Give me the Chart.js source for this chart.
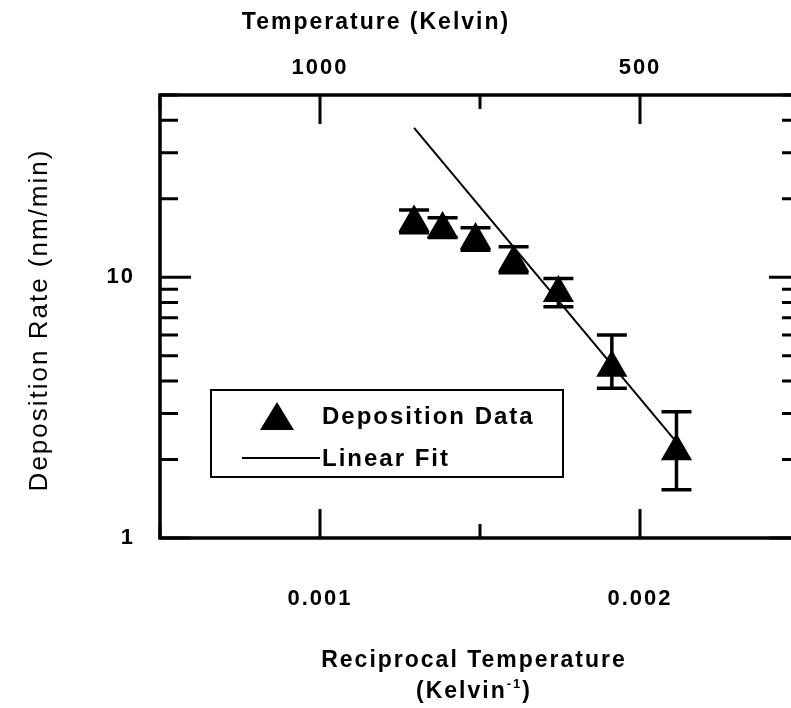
<!DOCTYPE html>
<html lang="en">
<head>
  <meta charset="UTF-8" />
  <title>Deposition Rate vs Reciprocal Temperature</title>
  <script src="https://cdn.jsdelivr.net/npm/chart.js"></script>
  <style>
    html, body { margin: 0; padding: 0; background: #fff; overflow: hidden; }
    #chart { display: block; }
  </style>
</head>
<body>
  <canvas id="chart" width="820" height="708"></canvas>

  <script>
    // data (x = 1/T, T in Kelvin)
    const recipTemp = [0.002114, 0.001912, 0.001745, 0.001605, 0.001486, 0.001383, 0.001294];
    const depRate = [2.15, 4.5, 8.7, 11.4, 13.9, 15.3, 16.2];
    const errLow = [1.53, 3.75, 7.7, 10.4, 12.7, 14.2, 14.8];
    const errHigh = [3.05, 6.0, 9.9, 13.1, 15.5, 16.9, 18.1];

    const fitX = [0.001294, 0.002114];
    const fitY = [37.4, 2.33];

    const xTickValues = [0.0005, 0.001, 0.0015, 0.002, 0.0025];
    const xTickLabels = ['', '0.001', '', '0.002', ''];
    const topTickValues = [0.0005, 0.001, 0.0015, 0.002, 0.0025];
    const topTickLabels = ['', '1000', '', '500', ''];
    const yTickValues = [1, 2, 3, 4, 5, 6, 7, 8, 9, 10, 20, 30, 40, 50];
    const yTickLabels = ['1', '', '', '', '', '', '', '', '', '10', '', '', '', ''];

    const FONT = 'Liberation Sans, Arial, sans-serif';
    const tickFont = { family: FONT, size: 22, weight: 'bold' };

    // frame, inward ticks, error bars, legend and axis titles
    const decor = {
      id: 'decor',
      beforeDraw(chart) {
        chart.ctx.letterSpacing = '2px';
      },
      afterDatasetsDraw(chart) {
        const ctx = chart.ctx;
        const { left, right, top, bottom } = chart.chartArea;
        const x = chart.scales.x, y = chart.scales.y, xt = chart.scales.xTop;
        ctx.save();
        ctx.strokeStyle = '#000';
        ctx.fillStyle = '#000';

        // error bars
        ctx.lineWidth = 3.5;
        recipTemp.forEach((t, i) => {
          const px = x.getPixelForValue(t);
          const y1 = y.getPixelForValue(errLow[i]);
          const y2 = y.getPixelForValue(errHigh[i]);
          ctx.beginPath();
          ctx.moveTo(px, y1); ctx.lineTo(px, y2);
          ctx.moveTo(px - 15, y1); ctx.lineTo(px + 15, y1);
          ctx.moveTo(px - 15, y2); ctx.lineTo(px + 15, y2);
          ctx.stroke();
        });

        // frame
        ctx.lineWidth = 3.5;
        ctx.strokeRect(left, top, right - left, bottom - top);

        // ticks
        ctx.lineWidth = 3;
        ctx.beginPath();
        xTickValues.forEach((v, i) => {
          const px = x.getPixelForValue(v);
          const len = xTickLabels[i] ? 29 : 14;
          ctx.moveTo(px, bottom); ctx.lineTo(px, bottom - len);
        });
        topTickValues.forEach((v, i) => {
          const px = xt.getPixelForValue(v);
          const len = topTickLabels[i] ? 29 : 14;
          ctx.moveTo(px, top); ctx.lineTo(px, top + len);
        });
        yTickValues.forEach((v, i) => {
          const py = y.getPixelForValue(v);
          const len = yTickLabels[i] ? 31 : 18;
          ctx.moveTo(left, py); ctx.lineTo(left + len, py);
          ctx.moveTo(right, py); ctx.lineTo(right - len, py);
        });
        ctx.stroke();

        // legend
        const ds = chart.data.datasets;
        ctx.lineWidth = 2;
        ctx.strokeRect(211, 390, 352, 87);
        ctx.beginPath();
        ctx.moveTo(277, 402); ctx.lineTo(294, 430); ctx.lineTo(260, 430);
        ctx.closePath();
        ctx.fill();
        ctx.beginPath();
        ctx.moveTo(242, 458); ctx.lineTo(320, 458);
        ctx.stroke();
        ctx.font = 'bold 24px ' + FONT;
        ctx.textAlign = 'left';
        ctx.textBaseline = 'middle';
        ctx.fillText(ds[0].label, 322, 417);
        ctx.fillText(ds[1].label, 322, 459);

        // axis titles
        ctx.font = 'bold 23px ' + FONT;
        ctx.textAlign = 'center';
        ctx.fillText('Temperature (Kelvin)', 376, 23);
        ctx.fillText('Reciprocal Temperature', 474, 661);
        const kl = '(Kelvin';
        const w1 = ctx.measureText(kl).width;
        ctx.font = 'bold 13px ' + FONT;
        const w2 = ctx.measureText('-1').width;
        ctx.font = 'bold 23px ' + FONT;
        const w3 = ctx.measureText(')').width;
        const sx = 474 - (w1 + w2 + w3) / 2;
        ctx.textAlign = 'left';
        ctx.fillText(kl, sx, 692);
        ctx.font = 'bold 13px ' + FONT;
        ctx.fillText('-1', sx + w1, 684);
        ctx.font = 'bold 23px ' + FONT;
        ctx.fillText(')', sx + w1 + w2, 692);

        ctx.save();
        ctx.translate(40, 320);
        ctx.rotate(-Math.PI / 2);
        ctx.textAlign = 'center';
        ctx.font = '26px ' + FONT;
        ctx.fillText('Deposition Rate (nm/min)', 0, 0);
        ctx.restore();

        ctx.restore();
      }
    };

    // drop the side padding Chart.js reserves for edge tick labels
    function noSidePad(s) {
      s.paddingLeft = 0;
      s.paddingRight = 0;
    }

    const ctx = document.getElementById('chart').getContext('2d');
    new Chart(ctx, {
      type: 'scatter',
      data: {
        datasets: [
          {
            label: 'Deposition Data',
            data: recipTemp.map((t, i) => ({ x: t, y: depRate[i] })),
            pointStyle: 'triangle',
            pointRadius: 18,
            backgroundColor: '#000',
            borderColor: '#000',
            borderWidth: 0,
            xAxisID: 'x',
            yAxisID: 'y'
          },
          {
            label: 'Linear Fit',
            data: fitX.map((t, i) => ({ x: t, y: fitY[i] })),
            showLine: true,
            pointRadius: 0,
            borderColor: '#000',
            borderWidth: 2,
            xAxisID: 'x',
            yAxisID: 'y'
          }
        ]
      },
      options: {
        responsive: false,
        animation: false,
        layout: { padding: { left: 0, right: 20, top: 0, bottom: 0 } },
        plugins: { legend: { display: false }, tooltip: { enabled: false } },
        scales: {
          x: {
            type: 'linear', position: 'bottom', min: 0.0005, max: 0.0025,
            afterBuildTicks: s => { s.ticks = xTickValues.map(v => ({ value: v })); },
            afterFit: s => { s.height = 170; noSidePad(s); },
            grid: { display: false, drawTicks: false }, border: { display: false },
            ticks: { autoSkip: false, maxRotation: 0, padding: 48, color: '#000', font: tickFont,
                     callback: (v, i) => xTickLabels[i] }
          },
          xTop: {
            type: 'linear', position: 'top', min: 0.0005, max: 0.0025,
            afterBuildTicks: s => { s.ticks = topTickValues.map(v => ({ value: v })); },
            afterFit: s => { s.height = 95; noSidePad(s); },
            grid: { display: false, drawTicks: false }, border: { display: false },
            ticks: { autoSkip: false, maxRotation: 0, padding: 14, color: '#000', font: tickFont,
                     callback: (v, i) => topTickLabels[i] }
          },
          y: {
            type: 'logarithmic', position: 'left', min: 1, max: 50,
            afterBuildTicks: s => { s.ticks = yTickValues.map(v => ({ value: v })); },
            afterFit: s => { s.width = 160; },
            grid: { display: false, drawTicks: false }, border: { display: false },
            ticks: { autoSkip: false, padding: 25, color: '#000', font: tickFont,
                     callback: (v, i) => yTickLabels[i] }
          }
        }
      },
      plugins: [decor]
    });
  </script>
</body>
</html>
